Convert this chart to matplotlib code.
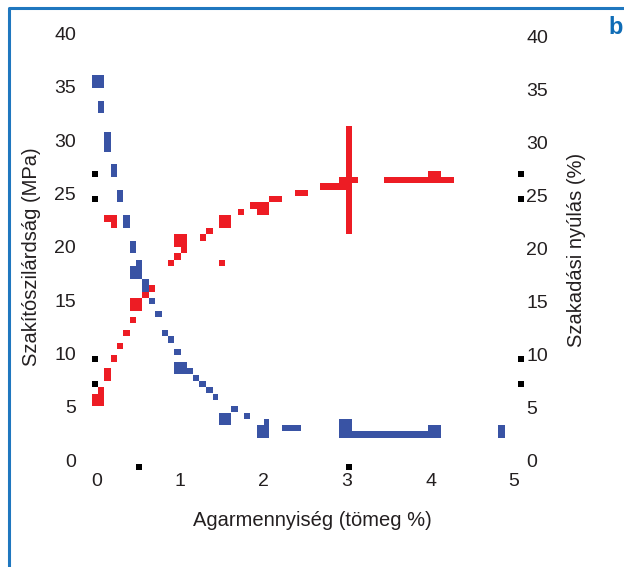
import matplotlib
matplotlib.use("Agg")
import matplotlib.pyplot as plt
from matplotlib.lines import Line2D

# blue: Szakítószilárdság blocks (x from/to, y from/to)
blue_x0 = [-0.05, 0.02, 0.09, 0.17, 0.25, 0.32, 0.40, 0.47, 0.40, 0.55, 0.63, 0.70, 0.78, 0.85, 0.93, 0.93,
           1.08, 1.16, 1.23, 1.31, 1.39, 1.47, 1.61, 1.77, 2.00, 1.92, 2.22, 2.90, 3.06, 3.97, 4.81]
blue_x1 = [0.09, 0.09, 0.17, 0.25, 0.32, 0.40, 0.47, 0.55, 0.55, 0.63, 0.70, 0.78, 0.85, 0.93, 1.01, 1.08,
           1.16, 1.23, 1.31, 1.39, 1.46, 1.61, 1.69, 1.84, 2.07, 2.07, 2.45, 3.06, 3.97, 4.12, 4.89]
blue_y0 = [34.93, 32.58, 28.92, 26.58, 24.20, 21.79, 19.45, 18.20, 17.01, 15.79, 14.63, 13.41, 11.66, 11.00,
           9.85, 8.04, 8.04, 7.41, 6.85, 6.26, 5.66, 3.28, 4.47, 3.87, 3.28, 2.09, 2.69, 2.09, 2.09, 2.09, 2.09]
blue_y1 = [36.12, 33.68, 30.77, 27.77, 25.33, 22.98, 20.54, 18.76, 18.20, 17.01, 15.23, 13.98, 12.20, 11.66,
           10.41, 9.22, 8.63, 7.97, 7.41, 6.85, 6.22, 4.44, 5.07, 4.44, 3.87, 3.28, 3.28, 3.87, 2.69, 3.28, 3.28]

# red: Szakadási nyúlás blocks
red_x0 = [-0.05, 0.02, 0.09, 0.17, 0.25, 0.32, 0.40, 0.40, 0.55, 0.63, 0.85, 0.93, 0.93, 1.01, 1.24, 1.31,
          0.09, 0.17, 1.47, 1.47, 1.69, 1.84, 1.92, 2.07, 2.38, 2.68, 2.99, 2.90, 3.44, 3.97]
red_x1 = [0.09, 0.09, 0.17, 0.25, 0.32, 0.40, 0.47, 0.55, 0.63, 0.70, 0.93, 1.01, 1.08, 1.08, 1.31, 1.39,
          0.25, 0.25, 1.61, 1.54, 1.77, 2.07, 2.07, 2.22, 2.53, 3.00, 3.06, 3.13, 4.28, 4.12]
red_y0 = [5.07, 6.22, 7.44, 9.22, 10.41, 11.66, 12.82, 13.98, 15.23, 15.79, 18.20, 18.76, 20.01, 19.45, 20.57,
          21.20, 22.36, 21.79, 21.79, 18.23, 22.98, 23.55, 22.98, 24.17, 24.77, 25.33, 21.20, 25.95, 26.01, 26.58]
red_y1 = [6.22, 6.85, 8.63, 9.85, 11.00, 12.20, 13.44, 15.23, 15.79, 16.42, 18.76, 19.39, 21.20, 20.01, 21.20,
          21.76, 22.98, 22.36, 22.98, 18.79, 23.55, 24.17, 23.55, 24.77, 25.33, 25.95, 31.33, 26.55, 26.58, 27.11]

# small black squares
black_x = [-0.02, -0.02, -0.02, -0.02, 5.08, 5.08, 5.08, 5.08, 0.51, 3.02]
black_y = [26.83, 24.49, 9.52, 7.13, 26.83, 24.49, 9.52, 7.13, -0.61, -0.61]

x_ticks = [0, 1, 2, 3, 4, 5]
y_ticks = [0, 5, 10, 15, 20, 25, 30, 35, 40]

plt.rcParams['font.family'] = ['Liberation Sans', 'DejaVu Sans']
txt = '#231f20'

fig = plt.figure(figsize=(6.24, 5.67), dpi=100)
ax = fig.add_axes([0.1413, 0.1887, 0.6959, 0.752])
ax2 = ax.twinx()


def blocks(x0, x1, y0, y1, color):
    w = [b - a for a, b in zip(x0, x1)]
    h = [b - a for a, b in zip(y0, y1)]
    ax.bar(x0, h, width=w, bottom=y0, align='edge', color=color, linewidth=0, clip_on=False)


blocks(blue_x0, blue_x1, blue_y0, blue_y1, '#3953a4')
blocks(red_x0, red_x1, red_y0, red_y1, '#ed1c24')
ax.scatter(black_x, black_y, marker='s', s=19, color='black', linewidths=0, clip_on=False)

ax.set_xlim(-0.1, 5.1)
ax.set_ylim(0, 40)
ax2.set_ylim(0.25, 40.25)
ax.set_xticks(x_ticks)
ax.set_yticks(y_ticks)
ax2.set_yticks(y_ticks)
ax.tick_params(axis='x', length=0, pad=9, labelsize=14, labelcolor=txt)
ax.tick_params(axis='y', length=0, pad=8.6, labelsize=14, labelcolor=txt)
ax2.tick_params(axis='y', length=0, pad=2.6, labelsize=14, labelcolor=txt)
for a in (ax, ax2):
    for s in a.spines.values():
        s.set_visible(False)

fig.text(32 / 624, 1 - 257 / 567, 'Szakítószilárdság (MPa)', rotation=90, ha='center', va='center',
         fontsize=14.5, color=txt)
fig.text(577 / 624, 1 - 250 / 567, 'Szakadási nyúlás (%)', rotation=90, ha='center', va='center',
         fontsize=14.5, color=txt)
fig.text(312 / 624, 1 - 521 / 567, 'Agarmennyiség (tömeg %)', ha='center', va='center',
         fontsize=14.5, color=txt)

# frame and panel letter
fig.add_artist(Line2D([9 / 624, 9 / 624, 1.0], [0.0, 1 - 7.5 / 567, 1 - 7.5 / 567],
                      color='#1f77bf', lw=2.2, transform=fig.transFigure))
fig.text(608 / 624, 1 - 27 / 567, 'b', ha='left', va='center', fontsize=17, fontweight='bold',
         color='#0f6cb6')

fig.savefig('out.png', dpi=100)
